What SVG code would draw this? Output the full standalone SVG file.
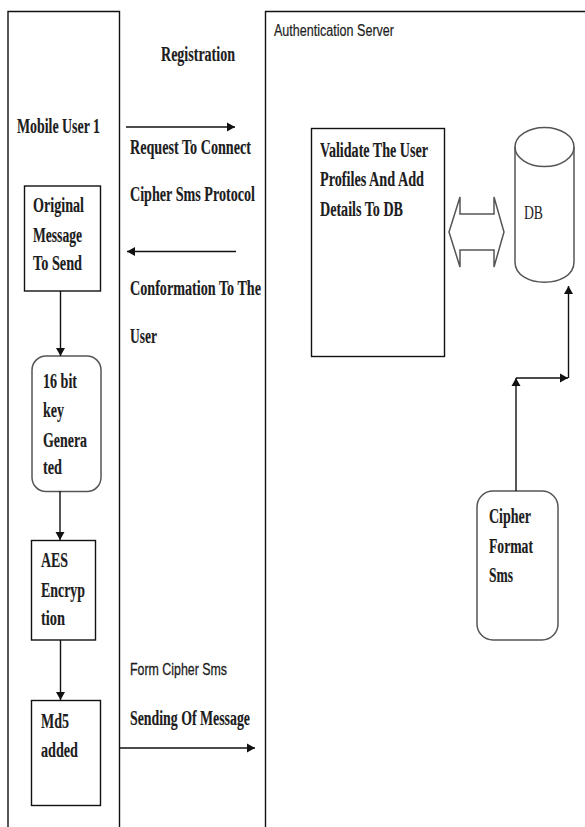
<svg xmlns="http://www.w3.org/2000/svg" width="585" height="827" viewBox="0 0 585 827">
<style>
.b{fill:none;stroke:#111;stroke-width:1.4}
.c{fill:none;stroke:#111;stroke-width:1.4}
.g{fill:none;stroke:#555;stroke-width:1.5}
text{font-family:"Liberation Serif",serif;font-size:20px;font-weight:bold;fill:#111;stroke:#111;stroke-width:0.15;opacity:.95}
.s{font-family:"Liberation Sans",sans-serif;font-size:16px;font-weight:normal;stroke-width:0.2}
.f{font-family:"Liberation Sans",sans-serif;font-size:17px;font-weight:normal;stroke-width:0.3}
.n{font-weight:normal;font-size:19px;stroke-width:0}
</style>
<defs><marker id="a" markerWidth="9" markerHeight="10" refX="8" refY="5" orient="auto" markerUnits="userSpaceOnUse"><path d="M0,0.500L8,5L0,9.500z" fill="#111"/></marker></defs>
<rect width="585" height="827" fill="#fff"/>
<g id="mobile-user"><path class="b" d="M8,827V11.500H119.500V827"/><text x="17" y="133" textLength="83" lengthAdjust="spacingAndGlyphs">Mobile User 1</text></g>
<g id="auth-server"><path class="b" d="M265.500,827V11.500H585"/><text class="s" x="274" y="36" textLength="120" lengthAdjust="spacingAndGlyphs">Authentication Server</text></g>
<g id="registration"><text x="161" y="61" textLength="74" lengthAdjust="spacingAndGlyphs">Registration</text></g>
<g id="labels">
<text x="130" y="154" textLength="121" lengthAdjust="spacingAndGlyphs">Request To Connect</text>
<text x="130" y="201" textLength="125" lengthAdjust="spacingAndGlyphs">Cipher Sms Protocol</text>
<text x="130" y="295" textLength="131" lengthAdjust="spacingAndGlyphs">Conformation To The</text>
<text x="130" y="343" textLength="27" lengthAdjust="spacingAndGlyphs">User</text>
<text class="f" x="130" y="675" textLength="97" lengthAdjust="spacingAndGlyphs">Form Cipher Sms</text>
<text x="130" y="725" textLength="120" lengthAdjust="spacingAndGlyphs">Sending Of Message</text>
</g>
<g id="original"><rect class="b" x="24.500" y="186" width="76" height="105"/><text x="33" y="212" textLength="51" lengthAdjust="spacingAndGlyphs">Original</text><text x="33" y="242" textLength="49" lengthAdjust="spacingAndGlyphs">Message</text><text x="33" y="270" textLength="49" lengthAdjust="spacingAndGlyphs">To Send</text></g>
<g id="key"><rect class="g" x="32" y="356" width="69" height="135.500" rx="14"/><text x="43" y="388" textLength="34" lengthAdjust="spacingAndGlyphs">16 bit</text><text x="43" y="417" textLength="21" lengthAdjust="spacingAndGlyphs">key</text><text x="43" y="447" textLength="44" lengthAdjust="spacingAndGlyphs">Genera</text><text x="43" y="474" textLength="19" lengthAdjust="spacingAndGlyphs">ted</text></g>
<g id="aes"><rect class="b" x="31.500" y="540.500" width="64" height="99.500"/><text x="41" y="567" textLength="27" lengthAdjust="spacingAndGlyphs">AES</text><text x="41" y="597" textLength="44" lengthAdjust="spacingAndGlyphs">Encryp</text><text x="41" y="625" textLength="24" lengthAdjust="spacingAndGlyphs">tion</text></g>
<g id="md5"><rect class="b" x="31.500" y="700.500" width="69" height="105"/><text x="41" y="728" textLength="28" lengthAdjust="spacingAndGlyphs">Md5</text><text x="41" y="757" textLength="37" lengthAdjust="spacingAndGlyphs">added</text></g>
<g id="validate"><rect class="b" x="311.500" y="128.500" width="133" height="228"/><text x="320" y="157" textLength="108" lengthAdjust="spacingAndGlyphs">Validate The User</text><text x="320" y="186" textLength="104" lengthAdjust="spacingAndGlyphs">Profiles And Add</text><text x="320" y="216" textLength="83" lengthAdjust="spacingAndGlyphs">Details To DB</text></g>
<g id="db"><path class="g" d="M515,147V262C515,289 574,289 574,262V147"/><ellipse class="g" cx="544.500" cy="147" rx="29.500" ry="19.500"/><text x="524" y="219" class="n" textLength="19" lengthAdjust="spacingAndGlyphs">DB</text></g>
<g id="cipher"><rect class="g" x="477" y="491" width="81" height="149" rx="16"/><text x="489" y="523" textLength="42" lengthAdjust="spacingAndGlyphs">Cipher</text><text x="489" y="553" textLength="44" lengthAdjust="spacingAndGlyphs">Format</text><text x="489" y="582" textLength="24" lengthAdjust="spacingAndGlyphs">Sms</text></g>
<g id="connectors">
<path class="c" d="M126,127H235" marker-end="url(#a)"/>
<path class="c" d="M236,251.500H127" marker-end="url(#a)"/>
<path class="c" d="M60.500,291V356" marker-end="url(#a)"/>
<path class="c" d="M60,491V540" marker-end="url(#a)"/>
<path class="c" d="M60.500,640V700" marker-end="url(#a)"/>
<path class="c" d="M120,748H255" marker-end="url(#a)"/>
<path class="c" d="M516,491V378" marker-end="url(#a)"/>
<path class="c" d="M516,378H568" marker-end="url(#a)"/>
<path class="c" d="M568.500,378V286" marker-end="url(#a)"/>
<path class="g" d="M449,232L460,197V214H494V197L504,232L494,267V250H460V267Z"/>
</g>
</svg>
